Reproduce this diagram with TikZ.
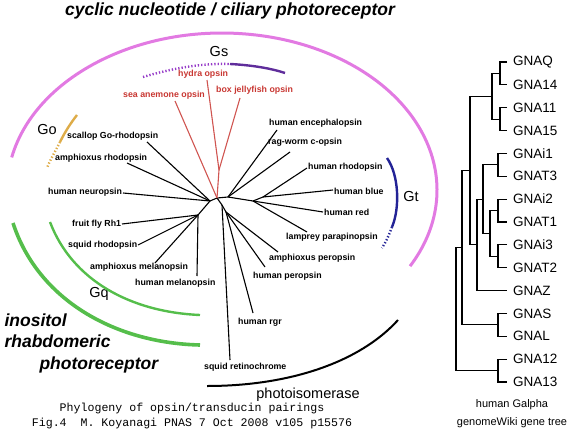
\documentclass[tikz,border=0pt]{standalone}
\usepackage{fontspec}
\setmainfont{Liberation Sans}
\setmonofont{Liberation Mono}
\definecolor{ciliary}{RGB}{226,122,226}
\definecolor{gsviolet}{RGB}{95,45,155}
\definecolor{gsdots}{RGB}{150,60,200}
\definecolor{gogold}{RGB}{222,172,72}
\definecolor{gtblue}{RGB}{35,35,150}
\definecolor{gqgreen}{RGB}{85,190,75}
\definecolor{cnidred}{RGB}{200,55,50}

\begin{document}
\begin{tikzpicture}[x=1pt,y=-1pt,
  opsin/.style={anchor=west,inner sep=0pt,font=\fontsize{8.8}{10}\selectfont\bfseries},
  branch/.style={line width=1.1pt},
  gene/.style={anchor=west,inner xsep=6pt,inner ysep=0pt,font=\fontsize{13.5}{15}\selectfont},
  clade/.style={font=\fontsize{14.5}{16}\selectfont},
  group/.style={align=left,font=\fontsize{17.5}{21.5}\selectfont\bfseries\itshape},
  dots/.style={dash pattern=on 1.3pt off 2pt}]
\useasboundingbox (0,0) rectangle (577,433);

% receptor classes
\node[group] (cyclic) at (230,11) {cyclic nucleotide / ciliary photoreceptor};
\node[group,anchor=west] (inositol) at (1,343) {inositol\\rhabdomeric\\\hspace*{35pt}photoreceptor};
\draw[ciliary,line width=3pt] (11.7,157.4) arc[start angle=192,end angle=389,x radius=215,y radius=157];

% G protein arcs
\node[clade] (gs) at (219,52) {Gs};
\draw[gsdots,line width=2.4pt,dots] (143,77) .. controls (170,69) and (200,63) .. (230,64);
\draw[gsviolet,line width=2.4pt] (230,64) .. controls (250,65) and (270,68) .. (285,73);
\node[clade] (go) at (47,130) {Go};
\draw[gogold,line width=2.4pt] (77,115) .. controls (70,124) and (65,132) .. (60,142);
\draw[gogold,line width=2.4pt,dots] (60,142) .. controls (55,152) and (50,160) .. (47,168);
\node[clade] (gt) at (411,197) {Gt};
\draw[gtblue,line width=2.4pt] (387,158) .. controls (399,175) and (400,208) .. (392,227);
\draw[gtblue,line width=2.4pt,dots] (392,227) .. controls (389,235) and (386,242) .. (382,248);
\node[clade] (gq) at (99,294) {Gq};
\draw[gqgreen,line width=2.4pt] (50,222) .. controls (72,280) and (130,312) .. (200,315);
\draw[gqgreen,line width=3.6pt] (13,223) .. controls (38,300) and (115,343) .. (200,345);
\node[clade] (photoiso) at (308,395) {photoisomerase};
\draw[line width=2pt] (207,386) .. controls (290,386) and (360,362) .. (398,320);

% opsin tree
\coordinate (root) at (217,198);
\coordinate (cnid) at (219,170);
\coordinate (cil) at (228,197);
\coordinate (vert) at (253,201);
\coordinate (rb) at (263,197);
\coordinate (rhab) at (210,201);
\coordinate (mel) at (198,215);
\coordinate (iso) at (222,205);
\coordinate (per) at (226,212);
\draw[branch] (root) -- (cil) (cil) -- (vert) (vert) -- (rb) (root) -- (rhab) (rhab) -- (mel) (root) -- (iso) (iso) -- (per);
\draw[branch,cnidred!85] (root) -- (cnid);
\foreach \n/\j/\tx/\ty/\lx/\ly/\t in {
  hydra/cnid/207/80/178/74/hydra opsin,
  box/cnid/240/98/216/90/box jellyfish opsin,
  anemone/root/175/101/123/95/sea anemone opsin}{
  \coordinate (\n) at (\tx,\ty);
  \node[opsin,cnidred] (\n-l) at (\lx,\ly) {\t};
  \draw[branch,cnidred!85] (\j) -- (\n);
}
\foreach \n/\j/\tx/\ty/\lx/\ly/\t in {
  enceph/cil/277/130/269/123/human encephalopsin,
  ragworm/cil/290/152/268/142/rag-worm c-opsin,
  hrho/rb/307/168/308/167/human rhodopsin,
  hblue/rb/333/190/334/191/human blue,
  hred/vert/323/212/324/212/human red,
  lamprey/vert/307/232/286/237/lamprey parapinopsin,
  amphper/per/278/252/269/258/amphioxus peropsin,
  hper/per/265/267/253/276/human peropsin,
  rgr/per/253/313/238/322/human rgr,
  retino/iso/230/360/204/367/squid retinochrome,
  hmel/mel/197/276/135/283/human melanopsin,
  amphmel/mel/155/263/90/267/amphioxus melanopsin,
  squidrho/mel/138/245/68/245/squid rhodopsin,
  fly/mel/122/224/72/224/fruit fly Rh1,
  neuro/rhab/123/193/48/192/human neuropsin,
  amphrho/rhab/127/163/55/158/amphioxus rhodopsin,
  scallop/rhab/147/142/67/136/scallop Go-rhodopsin}{
  \coordinate (\n) at (\tx,\ty);
  \node[opsin] (\n-l) at (\lx,\ly) {\t};
  \draw[branch] (\j) -- (\n);
}

% caption
\node[font=\fontsize{11.6}{15}\ttfamily,align=center] (caption) at (192,416)
  {Phylogeny of opsin/transducin pairings\\Fig.4\ \ M. Koyanagi PNAS 7 Oct 2008 v105 p15576};

% human Galpha tree
\foreach \n/\t [count=\i from 0] in {gnaq/GNAQ,gna14/GNA14,gna11/GNA11,gna15/GNA15,gnai1/GNAi1,gnat3/GNAT3,gnai2/GNAi2,gnat1/GNAT1,gnai3/GNAi3,gnat2/GNAT2,gnaz/GNAZ,gnas/GNAS,gnal/GNAL,gna12/GNA12,gna13/GNA13}
  \node[gene] (\n) at (507,62+22.86*\i) {\t};
\coordinate (q1) at (500,73.43);
\coordinate (q2) at (500,119.15);
\coordinate (gqnode) at (492,96.29);
\coordinate (i1) at (498,164.87);
\coordinate (i2) at (498,210.59);
\coordinate (i3) at (498,256.31);
\coordinate (i23) at (490,233.45);
\coordinate (i123) at (483,199.16);
\coordinate (iz) at (477,244.88);
\coordinate (qiz) at (470,170.59);
\coordinate (sl) at (498,324.89);
\coordinate (qs) at (462,247.74);
\coordinate (c12) at (498,370.61);
\coordinate (top) at (456,309.18);
\draw[branch] (gnaq.west) -| (q1) |- (gna14.west);
\draw[branch] (gna11.west) -| (q2) |- (gna15.west);
\draw[branch] (q1) -| (gqnode) |- (q2);
\draw[branch] (gnai1.west) -| (i1) |- (gnat3.west);
\draw[branch] (gnai2.west) -| (i2) |- (gnat1.west);
\draw[branch] (gnai3.west) -| (i3) |- (gnat2.west);
\draw[branch] (i2) -| (i23) |- (i3);
\draw[branch] (i1) -| (i123) |- (i23);
\draw[branch] (i123) -| (iz) |- (gnaz.west);
\draw[branch] (gqnode) -| (qiz) |- (iz);
\draw[branch] (gnas.west) -| (sl) |- (gnal.west);
\draw[branch] (qiz) -| (qs) |- (sl);
\draw[branch] (gna12.west) -| (c12) |- (gna13.west);
\draw[branch] (qs) -| (top) |- (c12);
\node[font=\fontsize{11}{18}\selectfont,align=center] (gcaption) at (512,414) {human Galpha\\genomeWiki gene tree};
\end{tikzpicture}
\end{document}
